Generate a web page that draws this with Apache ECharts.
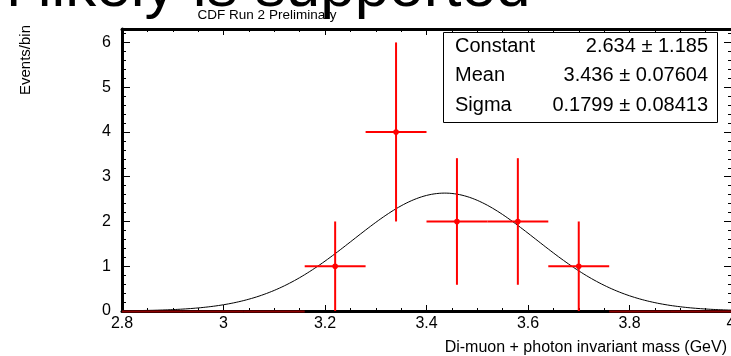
<!DOCTYPE html>
<html>
<head>
<meta charset="utf-8">
<script src="https://cdn.jsdelivr.net/npm/echarts@6/dist/echarts.min.js"></script>
<style>
  html, body { margin: 0; padding: 0; background: #ffffff; }
  #chart { width: 731px; height: 356px; }
</style>
</head>
<body>
<div id="chart"></div>
<script>
// Histogram bins (GeV) and their contents / statistical errors
const binEdges  = [2.8, 2.92, 3.04, 3.16, 3.28, 3.40, 3.52, 3.64, 3.76, 3.88, 4.0];
const binCounts = [0, 0, 0, 1, 4, 2, 2, 1, 0, 0];
const binErrors = [0, 0, 0, 1, 2, 1.414, 1.414, 1, 0, 0];

// Gaussian fit result
const statNames  = ['Constant', 'Mean', 'Sigma'];
const statValues = [2.634, 3.436, 0.1799];
const statErrors = [1.185, 0.07604, 0.08413];

// Axis ranges
const xRange = [2.8, 4.0];
const yRange = [0, 6.3];

const headline = 'n likely is supported';
const plotTitle = 'CDF Run 2 Preliminary';
const xTitle = 'Di-muon + photon invariant mass (GeV)';
const yTitle = 'Events/bin';

const FONT = 'Liberation Sans, Arial, sans-serif';

// rows: [low edge, high edge, content, error]
const histRows = binCounts.map((c, i) => [binEdges[i], binEdges[i + 1], c, binErrors[i]]);

// fit curve sampled along the x range
const [fitConst, fitMean, fitSigma] = statValues;
const fitCurve = [];
const nSamples = 240;
for (let i = 0; i <= nSamples; i++) {
  const x = xRange[0] + (xRange[1] - xRange[0]) * i / nSamples;
  const z = (x - fitMean) / fitSigma;
  fitCurve.push([x, fitConst * Math.exp(-0.5 * z * z)]);
}

const chart = echarts.init(document.getElementById('chart'), null, { renderer: 'canvas' });

const black = '#000000';
const fmtX = v => String(+(+v).toFixed(2));

const option = {
  animation: false,
  backgroundColor: '#ffffff',
  grid: { left: 122, top: 29, width: 609, height: 282, containLabel: false, outerBoundsMode: 'none' },
  xAxis: [
    {
      type: 'value', position: 'bottom', min: xRange[0], max: xRange[1], interval: 0.2,
      axisLine: { show: true, onZero: false, lineStyle: { color: black, width: 3 } },
      axisTick: { show: true, inside: true, length: 6, lineStyle: { color: black, width: 1 } },
      minorTick: { show: true, splitNumber: 4, length: 3, lineStyle: { color: black, width: 1 } },
      axisLabel: { show: true, margin: 5, color: black, fontSize: 16, fontFamily: FONT, formatter: fmtX,
                   hideOverlap: false },
      splitLine: { show: false }
    },
    {
      type: 'value', position: 'top', min: xRange[0], max: xRange[1], interval: 0.2,
      axisLine: { show: true, onZero: false, lineStyle: { color: black, width: 3 } },
      axisTick: { show: true, inside: true, length: 6, lineStyle: { color: black, width: 1 } },
      minorTick: { show: true, splitNumber: 4, length: 3, lineStyle: { color: black, width: 1 } },
      axisLabel: { show: false },
      splitLine: { show: false }
    }
  ],
  yAxis: [
    {
      type: 'value', position: 'left', min: yRange[0], max: yRange[1], interval: 1,
      axisLine: { show: true, onZero: false, lineStyle: { color: black, width: 3 } },
      axisTick: { show: true, inside: true, length: 8, lineStyle: { color: black, width: 1 } },
      axisLabel: { show: true, margin: 11, color: black, fontSize: 16, fontFamily: FONT, showMaxLabel: false },
      splitLine: { show: false }
    },
    {
      type: 'value', position: 'left', min: yRange[0], max: yRange[1], interval: 0.2,
      axisLine: { show: false },
      axisTick: { show: true, inside: true, length: 4, lineStyle: { color: black, width: 1 } },
      axisLabel: { show: false },
      splitLine: { show: false }
    },
    {
      type: 'value', position: 'right', min: yRange[0], max: yRange[1], interval: 1,
      axisLine: { show: false },
      axisTick: { show: true, inside: true, length: 7, lineStyle: { color: black, width: 1 } },
      axisLabel: { show: false },
      splitLine: { show: false }
    },
    {
      type: 'value', position: 'right', min: yRange[0], max: yRange[1], interval: 0.2,
      axisLine: { show: false },
      axisTick: { show: true, inside: true, length: 3, lineStyle: { color: black, width: 1 } },
      axisLabel: { show: false },
      splitLine: { show: false }
    }
  ],
  series: [
    {
      type: 'line', name: 'fit', xAxisIndex: 0, yAxisIndex: 0,
      data: fitCurve, showSymbol: false, smooth: false, silent: true,
      lineStyle: { color: black, width: 1 }, z: 3
    },
    {
      type: 'custom', name: 'hist', xAxisIndex: 0, yAxisIndex: 0, z: 4,
      data: histRows,
      encode: { x: [0, 1], y: 2 },
      renderItem: (params, api) => {
        const lo = api.value(0), hi = api.value(1), c = api.value(2), e = api.value(3);
        const mid = (lo + hi) / 2;
        const pL = api.coord([lo, c]), pR = api.coord([hi, c]);
        const pC = api.coord([mid, c]);
        const empty = c === 0;
        const col = empty ? '#8b0000' : '#ff0000';
        const children = [{
          type: 'line',
          shape: { x1: pL[0], y1: pL[1] + (empty ? 0.5 : 0), x2: pR[0], y2: pR[1] + (empty ? 0.5 : 0) },
          style: { stroke: col, lineWidth: 2 }
        }];
        if (!empty) {
          const pT = api.coord([mid, c + e]), pB = api.coord([mid, c - e]);
          children.push({ type: 'line', shape: { x1: pT[0], y1: pT[1], x2: pB[0], y2: pB[1] }, style: { stroke: col, lineWidth: 2 } });
          children.push({ type: 'circle', shape: { cx: pC[0], cy: pC[1], r: 2.8 }, style: { fill: col } });
        }
        return { type: 'group', children };
      }
    }
  ],
  graphic: [
    { type: 'text', x: -14, y: -11, z: 10, silent: true,
      style: { text: headline, font: '62px ' + FONT, fill: black, align: 'left', verticalAlign: 'middle' } },
    { type: 'text', x: 267, y: 15, z: 10, silent: true,
      style: { text: plotTitle, font: '13.5px ' + FONT, fill: black, align: 'center', verticalAlign: 'middle' } },
    { type: 'text', x: 727, y: 348, z: 10, silent: true,
      style: { text: xTitle, font: '16px ' + FONT, fill: black, align: 'right', verticalAlign: 'middle' } },
    { type: 'text', x: 26, y: 25, rotation: Math.PI / 2, z: 10, silent: true,
      style: { text: yTitle, font: '15px ' + FONT, fill: black, align: 'right', verticalAlign: 'middle' } },
    { type: 'rect', z: 20, silent: true,
      shape: { x: 443.5, y: 32.5, width: 274, height: 90 },
      style: { fill: '#ffffff', stroke: black, lineWidth: 1 } }
  ].concat(statNames.flatMap((name, i) => [
    { type: 'text', x: 455, y: 46 + i * 29.5, z: 21, silent: true,
      style: { text: name, font: '20px ' + FONT, fill: black, align: 'left', verticalAlign: 'middle' } },
    { type: 'text', x: 708, y: 46 + i * 29.5, z: 21, silent: true,
      style: { text: statValues[i] + ' \u00b1 ' + statErrors[i], font: '20px ' + FONT, fill: black, align: 'right', verticalAlign: 'middle' } }
  ]))
};

chart.setOption(option);
</script>
</body>
</html>
